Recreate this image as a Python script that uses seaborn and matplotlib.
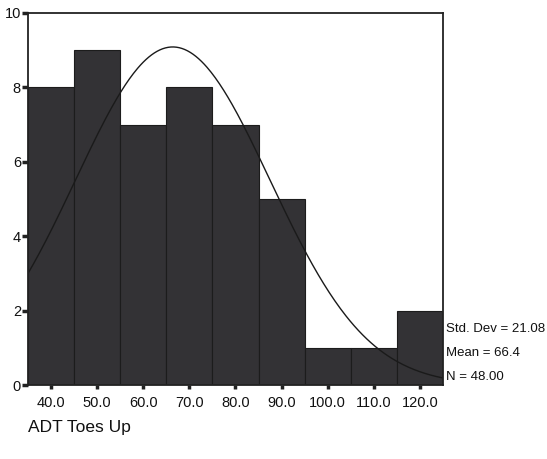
import matplotlib
matplotlib.use("Agg")
import matplotlib.pyplot as plt
import numpy as np
import pandas as pd
import seaborn as sns

# histogram data (bin midpoints and counts)
bin_centers = [40, 50, 60, 70, 80, 90, 100, 110, 120]
counts = [8, 9, 7, 8, 7, 5, 1, 1, 2]
tick_labels = ["40.0", "50.0", "60.0", "70.0", "80.0", "90.0", "100.0", "110.0", "120.0"]
std_dev = 21.08
mean = 66.4
n = 48

sns.set_style("white")
plt.rcParams['font.family'] = ['Liberation Sans', 'DejaVu Sans']
plt.rcParams['text.color'] = '#111111'

df = pd.DataFrame({"value": bin_centers, "count": counts})
edges = [c - 5 for c in bin_centers] + [bin_centers[-1] + 5]

fig = plt.figure(figsize=(5.47, 4.59), dpi=100)
ax = fig.add_axes([0.051, 0.161, 0.759, 0.811])
sns.histplot(data=df, x="value", weights="count", bins=edges, ax=ax,
             color="#333235", edgecolor="#1c1c1c", linewidth=0.8, alpha=1)

# normal curve scaled to counts
xs = np.linspace(35, 125, 300)
ys = n * 10 / (std_dev * np.sqrt(2 * np.pi)) * np.exp(-(xs - mean) ** 2 / (2 * std_dev ** 2))
sns.lineplot(x=xs, y=ys, ax=ax, color="#1a1a1a", linewidth=1.0)

ax.set_xlim(35, 125)
ax.set_ylim(0, 10)
ax.set_xticks(bin_centers)
ax.set_xticklabels(tick_labels, fontsize=10.5, color="#111111")
ax.set_yticks([0, 2, 4, 6, 8, 10])
ax.set_yticklabels(["0", "2", "4", "6", "8", "10"], fontsize=10.5, color="#111111")
ax.tick_params(axis="x", bottom=True, direction="out", length=3, width=2.5,
               color="#222222", pad=5)
ax.tick_params(axis="y", left=True, direction="out", length=4, width=2.5,
               color="#222222", pad=1)
ax.set_xlabel("")
ax.set_ylabel("")
for s in ax.spines.values():
    s.set_color("#222222")
    s.set_linewidth(1.3)

fig.text(0.815, 0.283, "Std. Dev = 21.08", fontsize=9.5, va="center")
fig.text(0.815, 0.231, "Mean = 66.4", fontsize=9.5, va="center")
fig.text(0.815, 0.179, "N = 48.00", fontsize=9.5, va="center")
fig.text(0.051, 0.068, "ADT Toes Up", fontsize=12.5, va="center")

fig.savefig("out.png", dpi=100)
